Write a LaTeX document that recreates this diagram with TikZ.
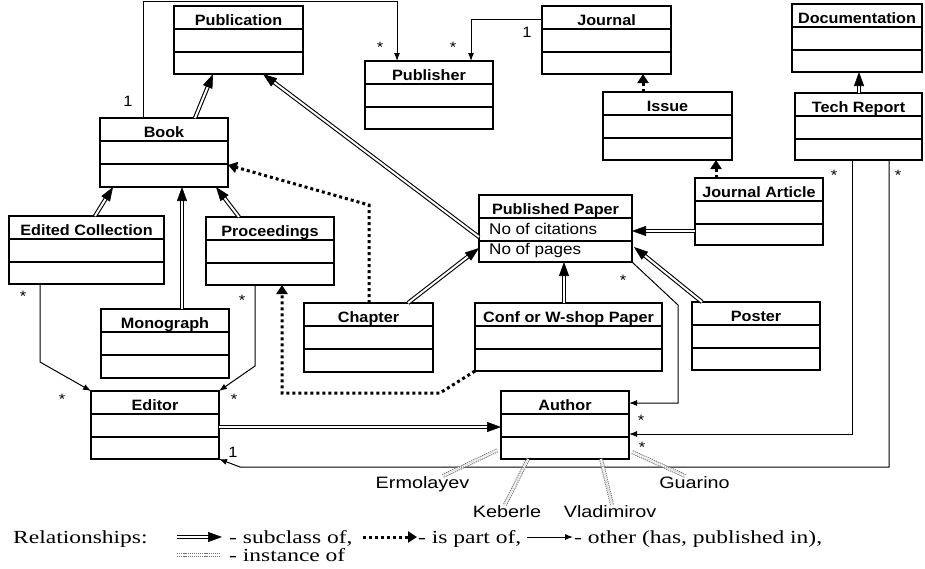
\documentclass[tikz,border=0pt]{standalone}
\usepackage{fontspec}
\usetikzlibrary{arrows.meta,calc}
\newfontfamily\ttlf[FakeStretch=1.08]{Liberation Sans}
\newfontfamily\rglf[FakeStretch=1.1]{Liberation Sans}
\newfontfamily\nmf[FakeStretch=1.2]{Liberation Sans}
\newfontfamily\lgf[FakeStretch=1.27]{Liberation Serif}
\tikzset{
  clsbox/.style={draw, line width=1.3pt, inner sep=0pt, outer sep=0pt},
  clsline/.style={line width=1.3pt},
  ttlnode/.style={anchor=base, inner sep=0pt, font=\ttlf\bfseries\fontsize{15}{18}\selectfont},
  rownode/.style={anchor=base west, inner sep=0pt, font=\rglf\fontsize{15.5}{18}\selectfont},
  subline/.style={double, double distance=2pt, line width=1.1pt, shorten >=9pt},
  subtip/.style={line width=0.6pt, -{Triangle[length=14pt,width=10pt]}},
  partof/.style={line width=3pt, dash pattern=on 3pt off 3pt, -{Triangle[length=9pt,width=11pt]}},
  other/.style={line width=1pt, -{Latex[length=8pt,width=6pt]}},
  inst/.style={draw=black!55, double=white, line width=0.9pt, double distance=2.2pt, dash pattern=on 1.2pt off 0.9pt},
  mult/.style={inner sep=0pt, font=\rglf\fontsize{15}{18}\selectfont},
  namenode/.style={anchor=base, inner sep=0pt, font=\nmf\fontsize{16.5}{19}\selectfont},
  lgtxt/.style={anchor=base west, inner sep=0pt, font=\lgf\fontsize{18.5}{21}\selectfont},
}
\newcommand\umlc[6]{%
  \node[clsbox, minimum width={(#4)-(#2)}, minimum height={(#5)-(#3)}] (#1) at ({(#2+#4)/2},{(#3+#5)/2}) {};
  \draw[clsline] ([yshift=-23pt]#1.north west) -- ([yshift=-23pt]#1.north east);
  \draw[clsline] ([yshift=-46pt]#1.north west) -- ([yshift=-46pt]#1.north east);
  \node[ttlnode] (#1-t) at ([yshift=-19pt]#1.north) {#6};
}
% subclass connector: #1 start, #2 end (coordinates with parentheses)
\newcommand\subc[2]{%
  \draw[subline] #1 -- #2;
  \draw[subtip] ($#2!13pt!#1$) -- #2;
}
\begin{document}
\begin{tikzpicture}[x=1pt,y=-1pt]
\useasboundingbox (0,0) rectangle (925,568);
% classes
\umlc{pub}{174}{6}{303}{74}{Publication}
\umlc{publisher}{365}{61}{493}{129}{Publisher}
\umlc{book}{100}{118}{228}{187}{Book}
\umlc{journal}{542}{6}{671}{74}{Journal}
\umlc{issue}{603}{92}{732}{160}{Issue}
\umlc{doc}{792}{4}{922}{72}{Documentation}
\umlc{tech}{795}{93}{922}{160}{Tech Report}
\umlc{jart}{695}{178}{823}{245}{Journal Article}
\umlc{pp}{479}{195}{632}{262}{Published Paper}
\umlc{conf}{475}{303}{662}{371}{Conf or W-shop Paper}
\umlc{poster}{692}{302}{820}{370}{Poster}
\umlc{ec}{9}{216}{164}{284}{Edited Collection}
\umlc{proc}{206}{217}{334}{285}{Proceedings}
\umlc{mono}{101}{309}{229}{378}{Monograph}
\umlc{chapter}{304}{303}{433}{372}{Chapter}
\umlc{editor}{91}{391}{219}{459}{Editor}
\umlc{author}{501}{391}{629}{459}{Author}
\node[rownode] (pp-r1) at (489,234) {No of citations};
\node[rownode] (pp-r2) at (489,254) {No of pages};

% subclass connectors
\subc{(195,0 |- book.north)}{(213,0 |- pub.south)}
\subc{(pp.west |- 0,237)}{(263,0 |- pub.south)}
\subc{(408,0 |- chapter.north)}{(pp.west |- 0,248)}
\subc{(95,0 |- ec.north)}{(113,0 |- book.south)}
\subc{(182,0 |- mono.north)}{(182,0 |- book.south)}
\subc{(239,0 |- proc.north)}{(216,0 |- book.south)}
\subc{(859,0 |- tech.north)}{(859,0 |- doc.south)}
\subc{(jart.west |- 0,231)}{(pp.east |- 0,231)}
\subc{(702,0 |- poster.north)}{(634,247)}
\subc{(564,0 |- conf.north)}{(564,0 |- pp.south)}
\subc{(editor.east |- 0,427)}{(author.west |- 0,427)}

% part-of connectors
\draw[partof] (369,0 |- chapter.north) -- (369,205) -- (book.east |- 0,165);
\draw[partof] (conf.south west) -- (440,393) -- (282,393) -- (282,0 |- proc.south);
\draw[partof] (643,0 |- issue.north) -- (643,0 |- journal.south);
\draw[partof] (716,0 |- jart.north) -- (716,0 |- issue.south);

% other connectors
\draw[other] (143,0 |- book.north) -- (143,1) -- (397,1) -- (397,0 |- publisher.north);
\draw[other] (journal.north west |- 0,19) -- (471,19) -- (471,0 |- publisher.north);
\draw[other] (40,0 |- ec.south) -- (40,362) -- (editor.north west);
\draw[other] (255,0 |- proc.south) -- (255,366) -- (editor.north east);
\draw[other] (pp.south east) -- (678,305) -- (678,403) -- (author.east |- 0,403);
\draw[other] (852,0 |- tech.south) -- (852,434) -- (author.east |- 0,434);
\draw[other] (889,0 |- tech.south) -- (889,467) -- (240,467) -- (editor.south east);

% multiplicities
\node[mult] (m1) at (128,101) {1};
\node[mult] (m2) at (380,47) {*};
\node[mult] (m3) at (453,47) {*};
\node[mult] (m4) at (527,32) {1};
\node[mult] (m5) at (23,296) {*};
\node[mult] (m6) at (62,399) {*};
\node[mult] (m7) at (242,300) {*};
\node[mult] (m8) at (234,399) {*};
\node[mult] (m9) at (623,280) {*};
\node[mult] (m10) at (641,420) {*};
\node[mult] (m11) at (642,447) {*};
\node[mult] (m12) at (834,175) {*};
\node[mult] (m13) at (898,175) {*};
\node[mult] (m14) at (233,452) {1};

% instances
\node[namenode] (erm) at (422.5,488) {Ermolayev};
\node[namenode] (keb) at (507,517) {Keberle};
\node[namenode] (vlad) at (610,517) {Vladimirov};
\node[namenode] (guar) at (694.5,488) {Guarino};
\draw[inst] (443,0 |- erm.north) -- (498,450);
\draw[inst] (505,0 |- keb.north) -- (528,0 |- author.south);
\draw[inst] (612,0 |- vlad.north) -- (601,0 |- author.south);
\draw[inst] (685,0 |- guar.north) -- (632,452);

% legend
\node[lgtxt] (lgR) at (13,543) {Relationships:};
\coordinate (ls1a) at (177,537); \coordinate (ls1b) at (222,537);
\subc{(ls1a)}{(ls1b)}
\node[lgtxt] (lg1) at (229,543) {- subclass of,};
\coordinate (ls2a) at (363,537); \coordinate (ls2b) at (417,537);
\draw[partof] (ls2a) -- (ls2b);
\node[lgtxt] (lg2) at (418,543) {- is part of,};
\coordinate (ls3a) at (527,537); \coordinate (ls3b) at (573,537);
\draw[other] (ls3a) -- (ls3b);
\node[lgtxt] (lg3) at (574,543) {- other (has, published in),};
\coordinate (ls4a) at (177,555); \coordinate (ls4b) at (220,555);
\draw[inst] (ls4a) -- (ls4b);
\node[lgtxt] (lg4) at (229,561) {- instance of};
\end{tikzpicture}
\end{document}
